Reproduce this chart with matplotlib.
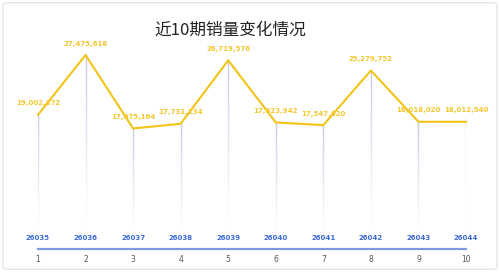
import matplotlib
matplotlib.use("Agg")
import matplotlib.pyplot as plt
import numpy as np
from matplotlib.collections import LineCollection
from matplotlib.patches import FancyBboxPatch

plt.rcParams['font.family'] = ['Noto Sans CJK SC', 'DejaVu Sans']

title = "近10期销量变化情况"
positions = [1, 2, 3, 4, 5, 6, 7, 8, 9, 10]
periods = ["26035", "26036", "26037", "26038", "26039", "26040", "26041", "26042", "26043", "26044"]
sales = [19002372, 27475618, 17075164, 17731134, 26719576, 17923942, 17547020, 25279752, 18018020, 18012540]

fig = plt.figure(figsize=(5.0, 2.72), dpi=100)
fig.patch.set_facecolor("white")
# faint frame
fig.add_artist(FancyBboxPatch((0.006, 0.01), 0.988, 0.98, boxstyle="round,pad=0,rounding_size=0.01",
                              transform=fig.transFigure, fill=False, ec="#e6e6e6", lw=1.0))

ax = fig.add_axes([38/500, 23/272, (466-38)/500, (249-40)/272])
ax.set_xlim(1, 10)
ax.set_ylim(0, 29.6e6)
for s in ax.spines.values():
    s.set_visible(False)
ax.set_xticks([])
ax.set_yticks([])

# gradient drop lines
n = 40
for x, v in zip(positions, sales):
    fr = np.linspace(1, 0.1, n + 1)
    segs = [[(x, v * fr[i]), (x, v * fr[i + 1])] for i in range(n)]
    alphas = np.linspace(0.85, 0, n) ** 1.2
    cols = [(0.72, 0.75, 0.86, a) for a in alphas]
    ax.add_collection(LineCollection(segs, colors=cols, linewidths=1.0, zorder=1))

ax.plot(positions, sales, color="#F2C417", lw=1.5, zorder=3, clip_on=False)

for x, v in zip(positions, sales):
    ax.annotate(f"{v:,}", (x, v), xytext=(0, 6), textcoords="offset points",
                ha="center", va="bottom", fontsize=5, color="#F4C730", fontweight="bold",
                family="DejaVu Sans")

unit = 29.6e6 / 209
for x, p in zip(positions, periods):
    ax.text(x, 11 * unit, p, ha="center", va="center", fontsize=5,
            color="#3D6BD6", fontweight="bold", family="DejaVu Sans")

ax.plot([1, 10], [0, 0], color="#7E98E6", lw=1.6, clip_on=False, zorder=2)

for x in positions:
    ax.text(x, -10 * unit, str(x), ha="center", va="center", fontsize=5.5,
            color="#555555", family="DejaVu Sans")

fig.text(230/500, 1 - 30/272, title, ha="center", va="center", fontsize=12, color="#222222")

fig.savefig("out.png", dpi=100)
